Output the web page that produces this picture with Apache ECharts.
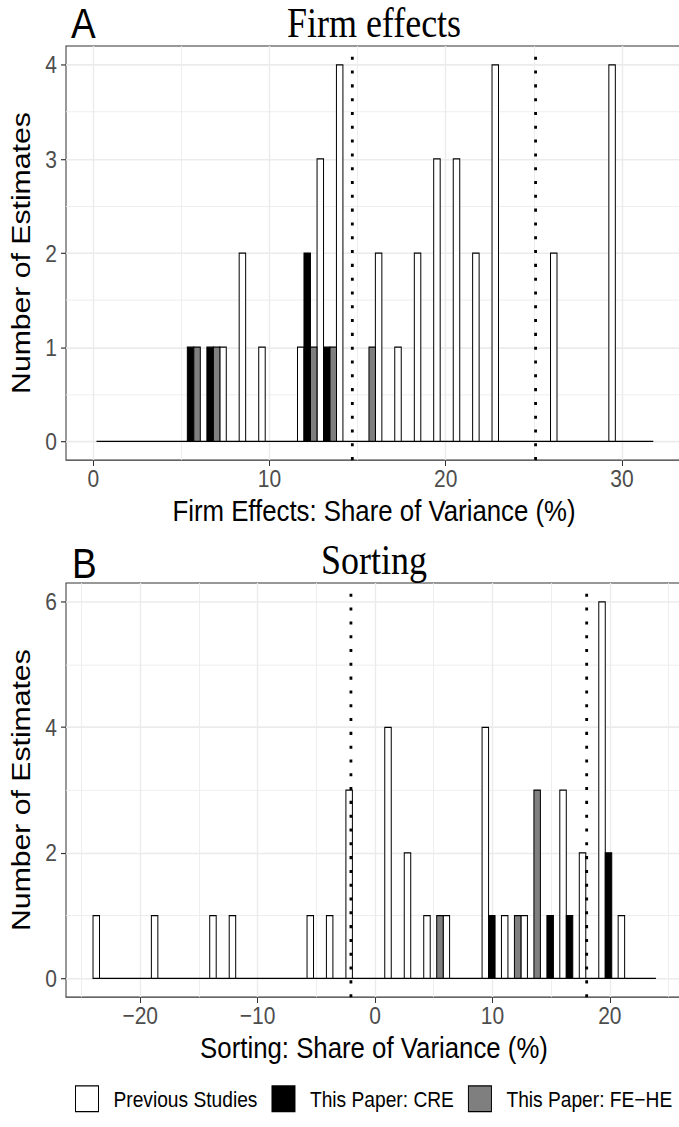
<!DOCTYPE html>
<html>
<head>
<meta charset="utf-8">
<script src="https://cdn.jsdelivr.net/npm/echarts@6/dist/echarts.min.js"></script>
<style>
  html, body { margin: 0; padding: 0; background: #ffffff; overflow: hidden; width: 679px; height: 1127px; }
  /* the figure is laid out on a shorter canvas and stretched vertically */
  #chart { width: 720px; height: 963.25px; transform: scale(1, 1.17); transform-origin: 0 0; }
</style>
</head>
<body>
<div id="chart"></div>
<script>
// ---------- Panel A: firm effects ----------
const firmBinWidth = 1.104;
const firmBinCenters = [5.52, 6.63, 7.73, 8.83, 9.94, 12.14, 13.25, 14.35, 15.46, 16.56, 17.66, 18.77, 19.87, 20.98, 22.08, 23.18, 26.50, 29.81];
const firmPrevious   = [0, 0, 1, 2, 1, 1, 3, 4, 0, 2, 1, 2, 3, 3, 2, 4, 2, 4];
const firmCRE        = [1, 1, 0, 0, 0, 2, 1, 0, 0, 0, 0, 0, 0, 0, 0, 0, 0, 0];
const firmFEHE       = [1, 1, 0, 0, 0, 1, 1, 0, 1, 0, 0, 0, 0, 0, 0, 0, 0, 0];
const firmSpan       = [0.18, 31.78];   // extent of the histogram baseline
const firmCutoffs    = [14.7, 25.1];    // dotted reference lines
const firmXTicks     = [0, 10, 20, 30];
const firmYTicks     = [0, 1, 2, 3, 4];

// ---------- Panel B: sorting ----------
const sortBinWidth = 1.657;
const sortBinCenters = [-23.19, -18.22, -13.25, -11.59, -4.96, -3.31, -1.65, 1.66, 3.32, 4.98, 6.63, 9.95, 11.60, 13.26, 14.92, 16.57, 18.23, 19.89, 21.54];
const sortPrevious   = [1, 1, 1, 1, 1, 1, 3, 4, 2, 1, 1, 4, 1, 1, 0, 3, 2, 6, 1];
const sortCRE        = [0, 0, 0, 0, 0, 0, 0, 0, 0, 0, 0, 1, 0, 0, 1, 1, 0, 2, 0];
const sortFEHE       = [0, 0, 0, 0, 0, 0, 0, 0, 0, 1, 0, 0, 1, 3, 0, 0, 0, 0, 0];
const sortSpan       = [-24.0, 23.93];
const sortCutoffs    = [-2.05, 18.03];
const sortXTicks     = [-20, -10, 0, 10, 20];
const sortYTicks     = [0, 2, 4, 6];

const groupNames = ['Previous Studies', 'This Paper: CRE', 'This Paper: FE\u2212HE'];
const groupFills = ['#FFFFFF', '#000000', '#7F7F7F'];

const SANS = '"Liberation Sans", Arial, Helvetica, sans-serif';
const SERIF = '"Liberation Serif", "Times New Roman", serif';

function fmtNum(v) { return v < 0 ? '\u2212' + Math.abs(v) : String(v); }

const panels = [
  { top: 39.3, xMin: -1.55, xMax: 33.41, yMin: -0.2, yMax: 4.2, xSplit: 3, ySplit: 4,
    xTicks: firmXTicks, yTicks: firmYTicks, xName: 'Firm Effects: Share of Variance (%)',
    centers: firmBinCenters, counts: [firmPrevious, firmCRE, firmFEHE], binWidth: firmBinWidth,
    span: firmSpan, cutoffs: firmCutoffs },
  { top: 498.3, xMin: -26.32, xMax: 26.15, yMin: -0.3, yMax: 6.3, xSplit: 5, ySplit: 3,
    xTicks: sortXTicks, yTicks: sortYTicks, xName: 'Sorting: Share of Variance (%)',
    centers: sortBinCenters, counts: [sortPrevious, sortCRE, sortFEHE], binWidth: sortBinWidth,
    span: sortSpan, cutoffs: sortCutoffs }
];

const gridLeft = 66, gridWidth = 616, gridHeight = 354;

const grids = [], xAxes = [], yAxes = [], series = [];

panels.forEach((p, idx) => {
  grids.push({
    left: gridLeft, top: p.top, width: gridWidth, height: gridHeight,
    show: true, borderColor: '#333333', borderWidth: 1, backgroundColor: 'transparent',
    containLabel: false, outerBoundsMode: 'none'
  });
  xAxes.push({
    type: 'value', gridIndex: idx, position: 'bottom', min: p.xMin, max: p.xMax, splitNumber: p.xSplit,
    axisLine: { show: false, onZero: false },
    axisTick: { show: true, length: 5, lineStyle: { color: '#333333', width: 1 }, customValues: p.xTicks },
    axisLabel: { customValues: p.xTicks, margin: 5, fontSize: 21, color: '#4D4D4D', fontFamily: SANS, formatter: fmtNum },
    splitLine: { show: true, lineStyle: { color: '#EBEBEB', width: 1.4 } },
    minorTick: { show: false, splitNumber: 2 },
    minorSplitLine: { show: true, lineStyle: { color: '#EBEBEB', width: 0.8 } },
    name: p.xName, nameLocation: 'middle', nameGap: 30,
    nameTextStyle: { fontSize: 25.8, color: '#000000', fontFamily: SANS }
  });
  yAxes.push({
    type: 'value', gridIndex: idx, position: 'left', min: p.yMin, max: p.yMax, splitNumber: p.ySplit,
    axisLine: { show: false, onZero: false },
    axisTick: { show: true, length: 5, lineStyle: { color: '#333333', width: 1 }, customValues: p.yTicks },
    axisLabel: { customValues: p.yTicks, margin: 9, fontSize: 21, color: '#4D4D4D', fontFamily: SANS, formatter: fmtNum },
    splitLine: { show: true, lineStyle: { color: '#EBEBEB', width: 1.4 } },
    minorTick: { show: false, splitNumber: 2 },
    minorSplitLine: { show: true, lineStyle: { color: '#EBEBEB', width: 0.8 } },
    name: 'Number of Estimates', nameLocation: 'middle', nameGap: 31,
    nameTextStyle: { fontSize: 25.8, color: '#000000', fontFamily: SANS }
  });

  // zero-height bars form a continuous baseline across the histogram range
  series.push({
    type: 'line', xAxisIndex: idx, yAxisIndex: idx, silent: true, z: 2,
    symbol: 'none', data: [[p.span[0], 0], [p.span[1], 0]],
    lineStyle: { color: '#000000', width: 1 }
  });

  // dodged histogram bars: one slot per group inside each bin
  const slotWidth = p.binWidth / 3;
  groupNames.forEach((name, g) => {
    const data = [];
    p.centers.forEach((c, i) => { if (p.counts[g][i] > 0) data.push([c, p.counts[g][i]]); });
    const fill = groupFills[g];
    const slot = g - 1;
    series.push({
      type: 'custom', name: name, xAxisIndex: idx, yAxisIndex: idx, z: 3,
      itemStyle: { color: fill, borderColor: '#000000', borderWidth: 1 },
      encode: { x: 0, y: 1 },
      data: data,
      renderItem: function (params, api) {
        const mid = api.value(0) + slot * slotWidth;
        const topLeft = api.coord([mid - slotWidth / 2, api.value(1)]);
        const baseRight = api.coord([mid + slotWidth / 2, 0]);
        return {
          type: 'rect',
          shape: { x: topLeft[0], y: topLeft[1], width: baseRight[0] - topLeft[0], height: baseRight[1] - topLeft[1] },
          style: { fill: fill, stroke: '#000000', lineWidth: 1 }
        };
      }
    });
  });

  // dotted vertical reference lines spanning the whole panel
  series.push({
    type: 'custom', xAxisIndex: idx, yAxisIndex: idx, z: 5, silent: true,
    encode: { x: 0, y: 1 },
    data: p.cutoffs.map(v => [v, 0]),
    renderItem: function (params, api) {
      const bottom = api.coord([api.value(0), p.yMin]);
      const top = api.coord([api.value(0), p.yMax]);
      return {
        type: 'line',
        shape: { x1: bottom[0], y1: bottom[1], x2: top[0], y2: top[1] },
        style: { stroke: '#000000', lineWidth: 2.8, lineDash: [2.6, 9.2], lineCap: 'butt' }
      };
    }
  });
});

const chart = echarts.init(document.getElementById('chart'), null, { renderer: 'svg' });
chart.setOption({
  backgroundColor: '#ffffff',
  animation: false,
  title: [
    { text: 'A', left: 71, top: 1.7, padding: 0, textStyle: { fontFamily: SANS, fontSize: 37, fontWeight: 'normal', color: '#000000' } },
    { text: 'Firm effects', left: 374, top: 0.8, textAlign: 'center', padding: 0, textStyle: { fontFamily: SERIF, fontSize: 36, fontWeight: 'normal', color: '#000000' } },
    { text: 'B', left: 72, top: 463.2, padding: 0, textStyle: { fontFamily: SANS, fontSize: 37, fontWeight: 'normal', color: '#000000' } },
    { text: 'Sorting', left: 374, top: 460.6, textAlign: 'center', padding: 0, textStyle: { fontFamily: SERIF, fontSize: 36, fontWeight: 'normal', color: '#000000' } }
  ],
  legend: {
    data: groupNames.map((n, g) => ({ name: n, itemStyle: { color: groupFills[g], borderColor: '#000000', borderWidth: 1 } })),
    orient: 'horizontal', left: 75, top: 927.6, padding: 0,
    icon: 'rect', itemWidth: 23, itemHeight: 22, itemGap: 14, selectedMode: false,
    textStyle: { fontSize: 19.2, color: '#000000', fontFamily: SANS, padding: [0, 0, 0, 10] }
  },
  grid: grids,
  xAxis: xAxes,
  yAxis: yAxes,
  series: series
});
</script>
</body>
</html>
